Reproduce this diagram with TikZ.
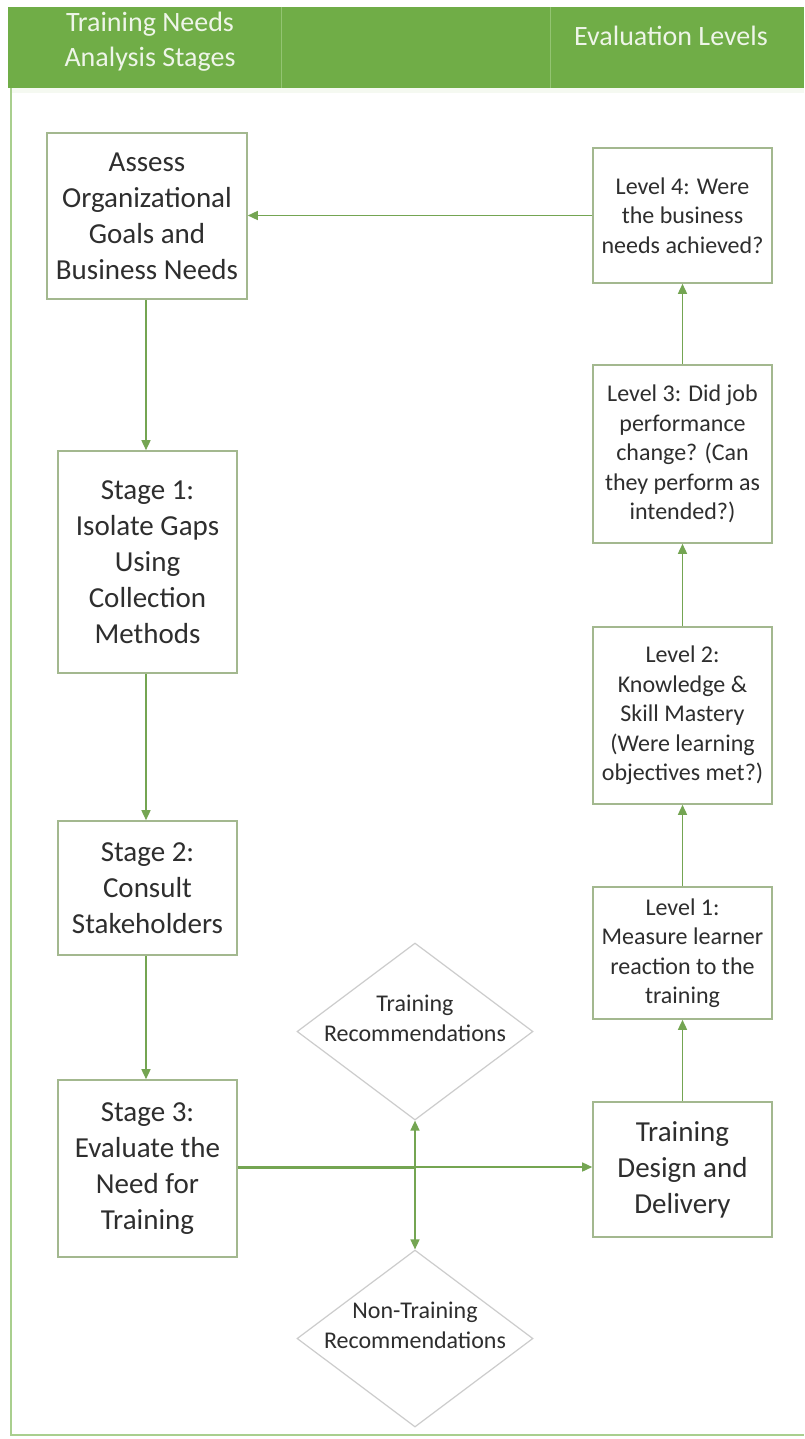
\documentclass[tikz,border=0pt]{standalone}
\usepackage{fontspec}
\setmainfont{Carlito}
\usetikzlibrary{arrows.meta,shapes.geometric}
\definecolor{hdr}{HTML}{70AD47}
\definecolor{hdrline}{HTML}{93C472}
\definecolor{hdrtxt}{HTML}{EEF5E8}
\definecolor{frame}{HTML}{A9CF8E}
\definecolor{boxc}{HTML}{A3B88F}
\definecolor{diac}{HTML}{CCCCCC}
\definecolor{arc}{HTML}{74A552}
\definecolor{txt}{HTML}{2E2E2E}
\begin{document}
\begin{tikzpicture}[x=1pt,y=-1pt,
  box/.style={draw=boxc, line width=1.6pt, fill=white, align=center, inner sep=0pt, text=txt},
  stagebox/.style={box, font=\fontsize{29}{36}\selectfont},
  levelbox/.style={box, font=\fontsize{24}{29.5}\selectfont},
  dia/.style={diamond, draw=diac, line width=1.2pt, fill=white, minimum width=236pt, minimum height=177pt, inner sep=0pt},
  dtext/.style={align=center, text=txt, inner sep=0pt, font=\fontsize{24}{30}\selectfont},
  hdrtext/.style={align=center, text=hdrtxt, inner sep=0pt, font=\fontsize{28}{35}\selectfont},
  conn/.style={draw=arc, line width=1.5pt, -{Triangle[length=10pt,width=9pt]}}
]
\useasboundingbox (0,0) rectangle (804,1439);
\fill[white] (0,0) rectangle (804,1439);
% header
\fill[hdr] (8,7) rectangle (804,88);
\draw[hdrline, line width=1pt] (281,7) -- (281,88);
\draw[hdrline, line width=1pt] (550,7) -- (550,88);
\fill[hdrtxt!60!white] (11,88) rectangle (804,93);
\node[hdrtext] (h1) at (150,42) {Training Needs\\Analysis Stages};
\node[hdrtext] (h2) at (671,36) {Evaluation Levels};
% frame
\draw[frame, line width=1.8pt] (11,88) -- (11,1435) -- (804,1435);
% left column
\node[stagebox, minimum width=200pt, minimum height=166pt] (A) at (147,216) {Assess\\Organizational\\Goals and\\Business Needs};
\node[stagebox, minimum width=179pt, minimum height=222pt] (S1) at (147.5,562) {Stage 1:\\Isolate Gaps\\Using\\Collection\\Methods};
\node[stagebox, minimum width=179pt, minimum height=134pt] (S2) at (147.5,888) {Stage 2:\\Consult\\Stakeholders};
\node[stagebox, minimum width=179pt, minimum height=177pt] (S3) at (147.5,1168.5) {Stage 3:\\Evaluate the\\Need for\\Training};
% right column
\node[levelbox, minimum width=179pt, minimum height=135pt] (L4) at (682.5,215.5) {Level 4: Were\\the business\\needs achieved?};
\node[levelbox, minimum width=179pt, minimum height=178pt] (L3) at (682.5,454) {Level 3: Did job\\performance\\change? (Can\\they perform as\\intended?)};
\node[levelbox, minimum width=179pt, minimum height=177pt] (L2) at (682.5,715.5) {Level 2:\\Knowledge \&\\Skill Mastery\\(Were learning\\objectives met?)};
\node[levelbox, minimum width=179pt, minimum height=132pt] (L1) at (682.5,953) {Level 1:\\Measure learner\\reaction to the\\training};
\node[stagebox, minimum width=179pt, minimum height=135pt] (TD) at (682.5,1169.5) {Training\\Design and\\Delivery};
% diamonds
\node[dia] (TR) at (415,1031.5) {};
\node[dtext] (TRt) at (415,1018) {Training\\Recommendations};
\node[dia] (NT) at (415,1338.5) {};
\node[dtext] (NTt) at (415,1325) {Non-Training\\Recommendations};
\coordinate (j) at (415,1167);
% connectors
\draw[conn] (A.south -| 146,0) -- (S1.north -| 146,0);
\draw[conn] (S1.south -| 146,0) -- (S2.north -| 146,0);
\draw[conn] (S2.south -| 146,0) -- (S3.north -| 146,0);
\draw[draw=arc, line width=3pt] (S3.east |- j) -- (j);
\draw[conn] (j) -- (TD.west |- j);
\draw[conn] (j) -- (TR.south);
\draw[conn] (j) -- (NT.north);
\draw[conn] (TD.north) -- (L1.south);
\draw[conn] (L1.north) -- (L2.south);
\draw[conn] (L2.north) -- (L3.south);
\draw[conn] (L3.north) -- (L4.south);
\draw[conn] (L4.west) -- (A.east |- L4.west);
\end{tikzpicture}
\end{document}
